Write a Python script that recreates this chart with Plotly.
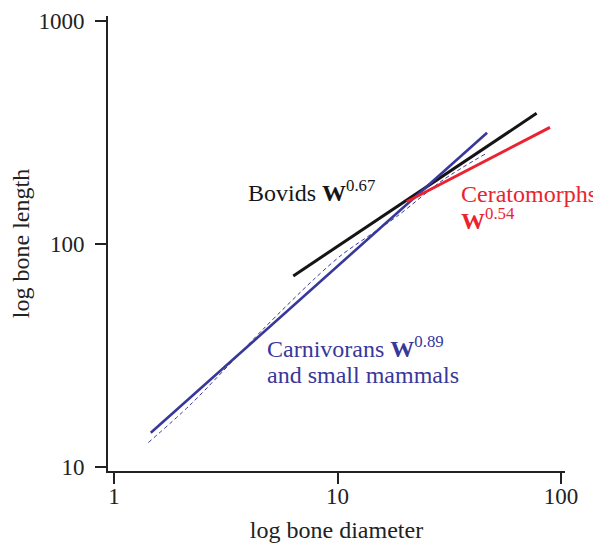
import plotly.graph_objects as go
import numpy as np

# Data
carn_x = [1.46, 46.7]
carn_y = [14.2, 315]
# overall fit (thin dashed curve)
all_x = [1.424, 2.188, 4.656, 7.79, 10.44, 18.4, 29.7, 45.7]
all_y = [12.84, 18.92, 41.5, 68.9, 89.2, 132.5, 193.6, 252.5]
bov_x = [6.34, 77.8]
bov_y = [71.8, 385]
cera_x = [20.4, 89.3]
cera_y = [154.5, 333]

x_ticks = [1, 10, 100]
y_ticks = [10, 100, 1000]

BLUE = "#38379a"
RED = "#ea2330"
BLACK = "#151515"
FONT = "Liberation Serif"

fig = go.Figure()
fig.add_trace(go.Scatter(x=all_x, y=all_y, mode="lines",
                         line=dict(color=BLUE, width=1, dash="4px,3px", shape="spline", smoothing=0.8),
                         showlegend=False))
fig.add_trace(go.Scatter(x=bov_x, y=bov_y, mode="lines",
                         line=dict(color=BLACK, width=3), showlegend=False))
fig.add_trace(go.Scatter(x=carn_x, y=carn_y, mode="lines",
                         line=dict(color=BLUE, width=2.6), showlegend=False))
fig.add_trace(go.Scatter(x=cera_x, y=cera_y, mode="lines",
                         line=dict(color=RED, width=3), showlegend=False))

def ann(x, y, text, color):
    fig.add_annotation(x=np.log10(x), y=np.log10(y), text=text, showarrow=False,
                       xanchor="left", yanchor="middle", align="left",
                       font=dict(family=FONT, size=24, color=color))

ann(3.9, 172.8, "Bovids <b>W</b><sup>0.67</sup>", BLACK)
ann(34.9, 167.5, "Ceratomorphs", RED)
ann(34.9, 129.4, "<b>W</b><sup>0.54</sup>", RED)
ann(4.72, 34.4, "Carnivorans <b>W</b><sup>0.89</sup>", BLUE)
ann(4.72, 25.8, "and small mammals", BLUE)

axis_common = dict(
    type="log", showgrid=False, zeroline=False, showline=True, automargin=False,
    linecolor="#222", linewidth=2, ticks="outside", ticklen=11, tickwidth=2,
    tickcolor="#222", tickfont=dict(family=FONT, size=23, color="#222"),
    mirror=False,
)

fig.update_xaxes(**axis_common, range=[-0.027, 2.018], tickvals=x_ticks,
                 ticktext=[str(v) for v in x_ticks], ticklabelstandoff=-8,
                 title=dict(text="log bone diameter", font=dict(family=FONT, size=24, color="#222"), standoff=14))
fig.update_yaxes(**axis_common, range=[0.981, 3.022], tickvals=y_ticks,
                 ticktext=[str(v) for v in y_ticks], ticklabelstandoff=6,
                 title=dict(text="log bone length", font=dict(family=FONT, size=24, color="#222"), standoff=2))

# page body has an 8px margin; figure is sized/offset to compensate
fig.update_layout(
    width=593, height=536,
    margin=dict(l=100, r=36, t=8, b=73),
    plot_bgcolor="white", paper_bgcolor="white",
)

fig.write_html("out.html")
